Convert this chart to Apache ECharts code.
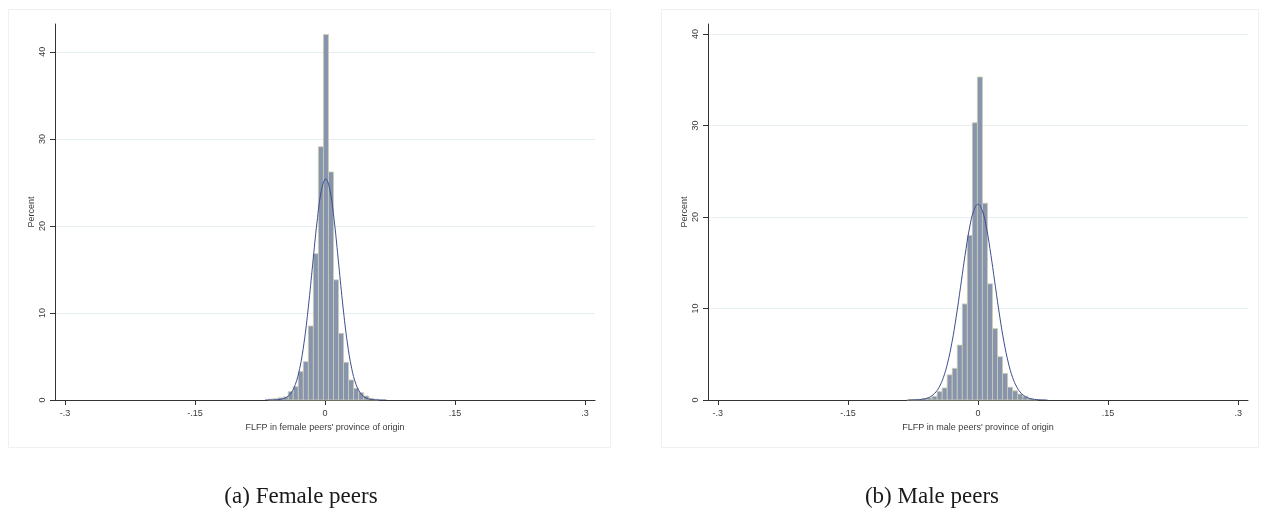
<!DOCTYPE html>
<html>
<head>
<meta charset="utf-8">
<script src="https://cdn.jsdelivr.net/npm/echarts@6/dist/echarts.min.js"></script>
<style>
  html, body { margin: 0; padding: 0; background: #ffffff; }
  #chart { width: 1263px; height: 522px; }
</style>
</head>
<body>
<div id="chart"></div>
<script>
// Histogram bin width (FLFP units) shared by both panels
const binWidth = 0.0058;

// Female peers: left edge of the first bin and the percent in each bin
const femaleFirstEdge = -0.0656;
const femalePercent = [0.1, 0.15, 0.25, 0.35, 0.96, 1.53, 3.26, 4.4, 8.5, 16.8, 29.1,
                       42.0, 26.2, 13.8, 7.66, 4.33, 2.3, 1.34, 0.84, 0.46, 0.19, 0.08];

// Male peers: left edge of the first bin and the percent in each bin
const maleFirstEdge = -0.0819;
const malePercent = [0.06, 0.04, 0.08, 0.15, 0.23, 0.4, 0.91, 1.32, 2.75, 3.46, 6.0, 10.5, 18.0, 30.3,
                     35.3, 21.5, 12.7, 7.8, 4.73, 2.9, 1.4, 1.0, 0.65, 0.4, 0.15, 0.05];

// Normal density overlays, [FLFP, percent]
const femaleNormal = [[-0.0692, 0], [-0.0592, 0.01], [-0.0542, 0.04], [-0.0492, 0.11], [-0.0442, 0.32],
  [-0.0392, 0.80], [-0.0342, 1.79], [-0.0292, 3.62], [-0.0242, 6.57], [-0.0192, 10.69], [-0.0142, 15.61],
  [-0.0092, 20.46], [-0.0042, 24.06], [0.0008, 25.4], [0.0058, 24.06], [0.0108, 20.46], [0.0158, 15.61],
  [0.0208, 10.69], [0.0258, 6.57], [0.0308, 3.62], [0.0358, 1.79], [0.0408, 0.80], [0.0458, 0.32],
  [0.0508, 0.11], [0.0558, 0.04], [0.0608, 0.01], [0.0708, 0]];
const maleNormal = [[-0.08, 0], [-0.07, 0.03], [-0.065, 0.07], [-0.06, 0.16], [-0.055, 0.35], [-0.05, 0.72],
  [-0.045, 1.37], [-0.04, 2.44], [-0.035, 4.06], [-0.03, 6.31], [-0.025, 9.17], [-0.02, 12.44],
  [-0.015, 15.77], [-0.01, 18.69], [-0.005, 20.69], [0, 21.4], [0.005, 20.69], [0.01, 18.69],
  [0.015, 15.77], [0.02, 12.44], [0.025, 9.17], [0.03, 6.31], [0.035, 4.06], [0.04, 2.44],
  [0.045, 1.37], [0.05, 0.72], [0.055, 0.35], [0.06, 0.16], [0.065, 0.07], [0.07, 0.03], [0.08, 0]];

// Axis ticks and texts
const xTickValues = [-0.3, -0.15, 0, 0.15, 0.3];
const xTickLabels = ['-.3', '-.15', '0', '.15', '.3'];
const yTickValues = [0, 10, 20, 30, 40];
const xTitles = ["FLFP in female peers' province of origin", "FLFP in male peers' province of origin"];
const captions = ['(a) Female peers', '(b) Male peers'];

const FONT = '"Liberation Sans", Arial, sans-serif';
const INK = '#3a3a3a';

function toBins(firstEdge, values) {
  return values.map((v, i) => [firstEdge + i * binWidth, firstEdge + (i + 1) * binWidth, v]);
}

function renderBin(params, api) {
  const top = api.coord([api.value(0), api.value(2)]);
  const base = api.coord([api.value(1), 0]);
  return {
    type: 'rect',
    shape: { x: top[0], y: top[1], width: base[0] - top[0], height: base[1] - top[1] },
    style: { fill: '#8794ae', stroke: '#cdcbb2', lineWidth: 0.8 }
  };
}

function xLabel(v) {
  let best = 0;
  xTickValues.forEach((t, i) => { if (Math.abs(t - v) < Math.abs(xTickValues[best] - v)) best = i; });
  return xTickLabels[best];
}

function xAxis(g, extent) {
  return {
    type: 'value', gridIndex: g, min: -extent, max: extent,
    name: xTitles[g], nameLocation: 'middle', nameGap: 19,
    nameTextStyle: { fontSize: 9, color: INK, fontFamily: FONT },
    axisLine: { onZero: false, lineStyle: { color: '#333', width: 1 } },
    axisTick: { show: true, customValues: xTickValues, length: 5, lineStyle: { color: '#333' } },
    axisLabel: { customValues: xTickValues, formatter: xLabel, fontSize: 9, margin: 9, color: INK, fontFamily: FONT },
    splitLine: { show: false }
  };
}

function yAxis(g, max) {
  return {
    type: 'value', gridIndex: g, min: 0, max: max, interval: 10,
    name: 'Percent', nameLocation: 'middle', nameGap: 19, nameRotate: 90,
    nameTextStyle: { fontSize: 9, color: INK, fontFamily: FONT },
    axisLine: { show: true, onZero: false, lineStyle: { color: '#333', width: 1 } },
    axisTick: { show: true, customValues: yTickValues, length: 5, lineStyle: { color: '#333' } },
    axisLabel: { customValues: yTickValues, rotate: 90, fontSize: 9, margin: 8, color: INK, fontFamily: FONT },
    splitLine: { show: true, lineStyle: { color: '#e6eff1', width: 1 } }
  };
}

function histSeries(g, firstEdge, values) {
  return {
    type: 'custom', xAxisIndex: g, yAxisIndex: g,
    renderItem: renderBin, encode: { x: [0, 1], y: 2 },
    data: toBins(firstEdge, values), silent: true, z: 2
  };
}

function curveSeries(g, pts) {
  return {
    type: 'line', xAxisIndex: g, yAxisIndex: g, data: pts,
    smooth: 0.4, showSymbol: false, silent: true, z: 3,
    lineStyle: { color: '#3d4f8c', width: 1 }
  };
}

const chart = echarts.init(document.getElementById('chart'), null, { renderer: 'canvas' });
chart.setOption({
  animation: false,
  backgroundColor: '#ffffff',
  grid: [
    { left: 55, top: 24, width: 540, height: 376 },
    { left: 708, top: 24, width: 540, height: 376 }
  ],
  xAxis: [xAxis(0, 0.3116), xAxis(1, 0.3113)],
  yAxis: [yAxis(0, 43.2), yAxis(1, 41.1)],
  series: [
    histSeries(0, femaleFirstEdge, femalePercent),
    curveSeries(0, femaleNormal),
    histSeries(1, maleFirstEdge, malePercent),
    curveSeries(1, maleNormal)
  ],
  graphic: [
    { type: 'rect', silent: true, z: -1, shape: { x: 8.5, y: 9.5, width: 602, height: 438 },
      style: { fill: 'none', stroke: '#f0f0f0', lineWidth: 1 } },
    { type: 'rect', silent: true, z: -1, shape: { x: 661.5, y: 9.5, width: 597, height: 438 },
      style: { fill: 'none', stroke: '#f0f0f0', lineWidth: 1 } },
    { type: 'text', silent: true, x: 301, y: 497,
      style: { text: captions[0], fontSize: 23, fontFamily: '"Liberation Serif", serif', fill: '#1a1a1a',
               align: 'center', verticalAlign: 'middle' } },
    { type: 'text', silent: true, x: 932, y: 497,
      style: { text: captions[1], fontSize: 23, fontFamily: '"Liberation Serif", serif', fill: '#1a1a1a',
               align: 'center', verticalAlign: 'middle' } }
  ]
});
</script>
</body>
</html>
